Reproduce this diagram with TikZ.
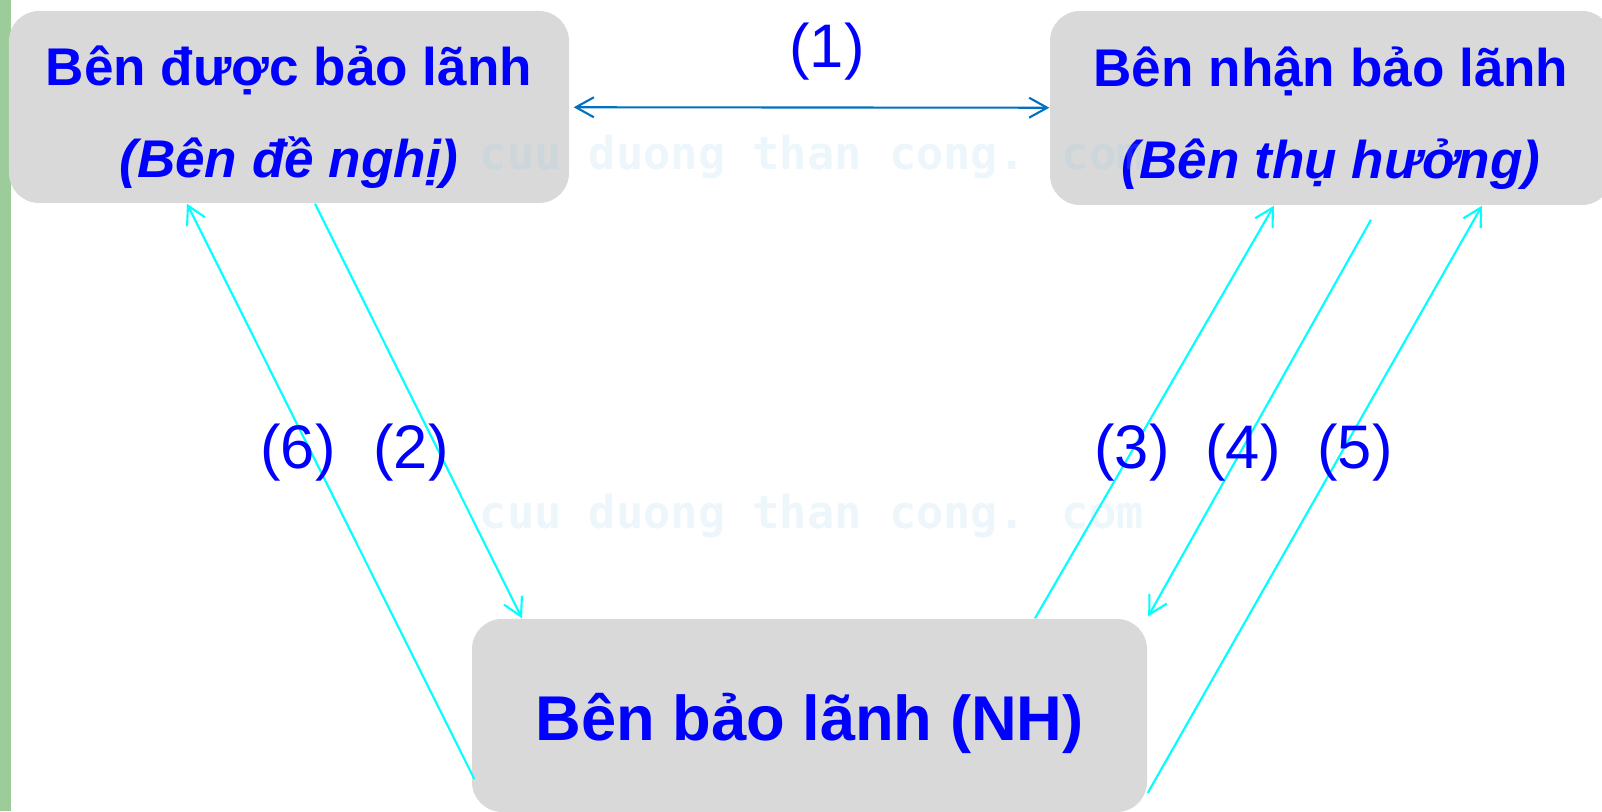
\documentclass[tikz,border=0pt]{standalone}
\usepackage{fontspec}
\setmainfont{Liberation Sans}
\newfontfamily\wmfont{DejaVu Sans Mono}
\usepackage{tikz}
\usetikzlibrary{arrows.meta}

\definecolor{boxgray}{RGB}{217,217,217}
\definecolor{textblue}{RGB}{0,0,255}
\definecolor{linkblue}{RGB}{0,112,192}
\definecolor{flowcyan}{RGB}{0,255,255}
\definecolor{sidegreen}{RGB}{155,204,153}
\definecolor{wmblue}{RGB}{150,200,230}

% strut that pushes the first line of a box down a little
\newcommand{\toppush}{\rule{0pt}{17pt}}

\begin{document}
\begin{tikzpicture}[
  party/.style={
    fill=boxgray,
    rounded corners=0.3cm,
    align=center,
    text=textblue,
    font=\fontsize{15.1}{26}\selectfont\bfseries},
  flow/.style={
    draw=flowcyan,
    line width=0.6pt,
    -{Straight Barb[length=1.8mm,width=2mm]}},
  tag/.style={
    text=textblue,
    font=\fontsize{17.5}{17.5}\selectfont},
  wm/.style={
    inner sep=0pt,
    anchor=base west,
    text=wmblue,
    text opacity=0.17,
    font=\wmfont\bfseries\fontsize{12.9}{12.9}\selectfont}]

\useasboundingbox (0,0) rectangle (16.02,8.11);
\fill[sidegreen] (0,0) rectangle (0.11,8.11);

% the three parties
\node[party, minimum width=5.6cm, minimum height=1.92cm] (applicant) at (2.89,7.04)
  {\toppush Bên được bảo lãnh\\\textit{(Bên đề nghị)}};
\node[party, minimum width=5.62cm, minimum height=1.94cm] (beneficiary) at (13.31,7.03)
  {\toppush Bên nhận bảo lãnh\\\textit{(Bên thụ hưởng)}};
\node[party, minimum width=6.75cm, minimum height=1.93cm,
  text height=0.61cm, text depth=0.1cm,
  font=\fontsize{18}{18}\selectfont\bfseries] (guarantor) at (8.095,0.955)
  {Bên bảo lãnh (NH)};

% contract between the two parties
\draw[
  draw=linkblue,
  line width=0.6pt,
  {Straight Barb[length=1.8mm,width=2mm]}-{Straight Barb[length=1.8mm,width=2mm]},
  shorten <=0.04cm] (applicant) -- (beneficiary);

% flows through the bank
\draw[flow] ([xshift=0.03cm,yshift=-0.635cm]guarantor.west) -- ([xshift=-1.02cm]applicant.south);
\draw[flow] ([xshift=0.26cm]applicant.south) -- ([xshift=-2.875cm]guarantor.north);
\draw[flow] ([xshift=2.255cm]guarantor.north) -- ([xshift=-0.57cm]beneficiary.south);
\draw[flow] ([xshift=0.40cm,yshift=-0.14cm]beneficiary.south) -- ([xshift=0.005cm,yshift=0.02cm]guarantor.north east);
\draw[flow] ([yshift=-0.775cm]guarantor.east) -- ([xshift=1.51cm]beneficiary.south);

% step numbers
\node[tag] (one) at (8.27,7.59) {(1)};
\node[tag] (six) at (2.98,3.58) {(6)};
\node[tag] (two) at (4.11,3.58) {(2)};
\node[tag] (three) at (11.32,3.58) {(3)};
\node[tag] (four) at (12.43,3.58) {(4)};
\node[tag] (five) at (13.55,3.58) {(5)};

% faint watermark
\node[wm] (wmtop) at (4.79,6.41) {cuu duong than cong. com};
\node[wm] (wmmid) at (4.79,2.82) {cuu duong than cong. com};
\end{tikzpicture}
\end{document}
